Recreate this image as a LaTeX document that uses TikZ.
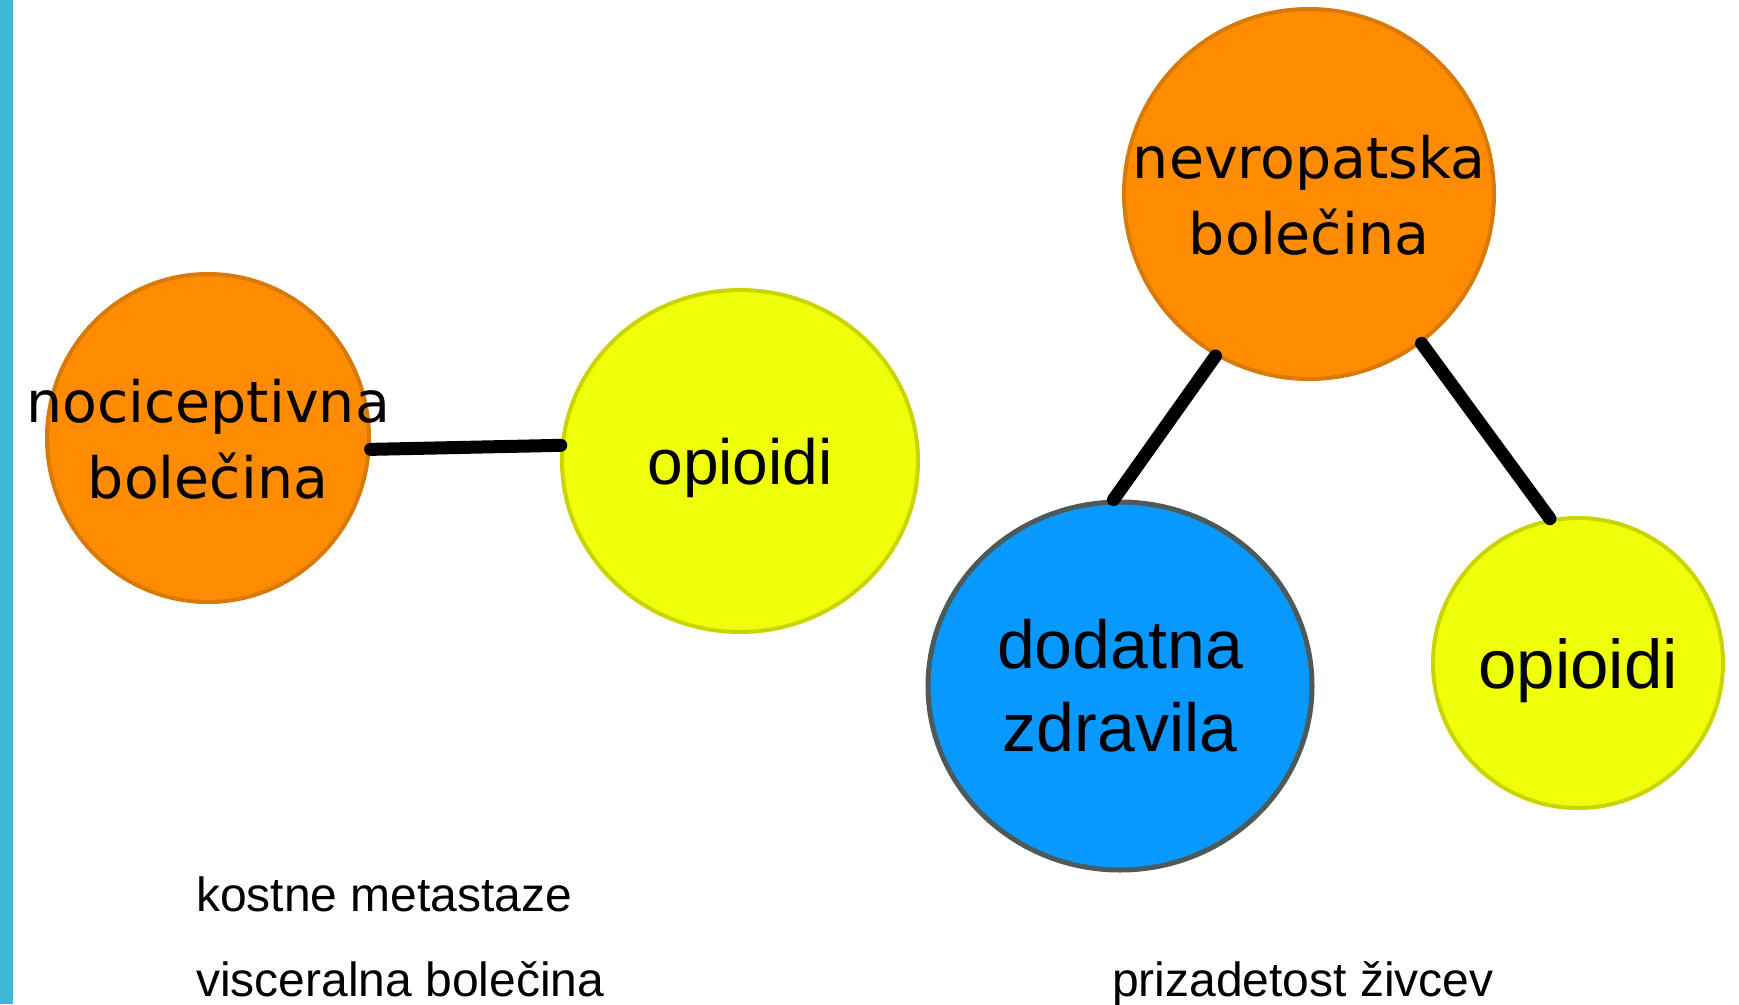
\documentclass[tikz,border=0pt]{standalone}
\usepackage{fontspec}
\setmainfont{Liberation Sans}
\newfontfamily\handfont{DejaVu Sans}
\usetikzlibrary{shapes.geometric}
\definecolor{barblue}{HTML}{40B8D4}
\definecolor{painorange}{HTML}{FF8C00}
\definecolor{painedge}{HTML}{D87A08}
\definecolor{opiyellow}{HTML}{EFFF0A}
\definecolor{opiedge}{HTML}{C9D400}
\definecolor{drugblue}{HTML}{0799FF}
\definecolor{drugedge}{HTML}{4E5A5A}
\newcommand{\overtext}[2]{\makebox[0pt]{\raisebox{-14pt}[0pt][0pt]{\begin{tabular}{@{}c@{}}#1\\#2\end{tabular}}}}
\tikzset{
	painnode/.style={ellipse, fill=painorange, draw=painedge, line width=4pt, inner sep=0pt, font=\handfont\fontsize{57}{76}\selectfont},
	opinode/.style={ellipse, fill=opiyellow, draw=opiedge, line width=4pt, inner sep=0pt, text depth=0pt},
	drugnode/.style={ellipse, fill=drugblue, draw=drugedge, line width=5pt, inner sep=0pt, align=center, font=\fontsize{68}{83}\selectfont},
	link/.style={line width=13pt, line cap=round, black},
	notetext/.style={anchor=base west, inner sep=0pt, font=\fontsize{48}{58}\selectfont}
}

\begin{document}
\begin{tikzpicture}[x=1pt, y=-1pt]
			%%%%% START %%%%%
			\useasboundingbox (0, 0) rectangle (1739, 1004);
			
			\fill[barblue] (0, 0) rectangle (13, 1004);
			
			\node[painnode, minimum width=322pt, minimum height=328pt] (noci) at (208, 438) {\overtext{nociceptivna}{bolečina}};
			
			\node[opinode, minimum width=356pt, minimum height=342pt, font=\fontsize{64}{76}\selectfont] (opi1) at (740, 461) {opioidi};
			
			\node[painnode, minimum width=370pt, minimum height=370pt] (nevro) at (1309, 194) {\overtext{nevropatska}{bolečina}};
			
			\node[drugnode, minimum width=384pt, minimum height=368pt] (drug) at (1120, 686) {dodatna\\zdravila};
			
			\node[opinode, minimum width=290pt, minimum height=290pt, font=\fontsize{69}{80}\selectfont] (opi2) at (1578, 663) {opioidi};
			
			\draw[link] (noci.-4.6) -- (opi1.175.5);
			\draw[link] (nevro.-120.5) -- (drug.92.6);
			\draw[link] (nevro.-53.4) -- (opi2.101.5);
			
			\node[notetext] (bone) at (196, 911) {kostne metastaze};
			\node[notetext] (visc) at (196, 996) {visceralna bolečina};
			\node[notetext] (nerve) at (1112, 996) {prizadetost živcev};
			
			%%%%% END %%%%%
\end{tikzpicture}
\end{document}
